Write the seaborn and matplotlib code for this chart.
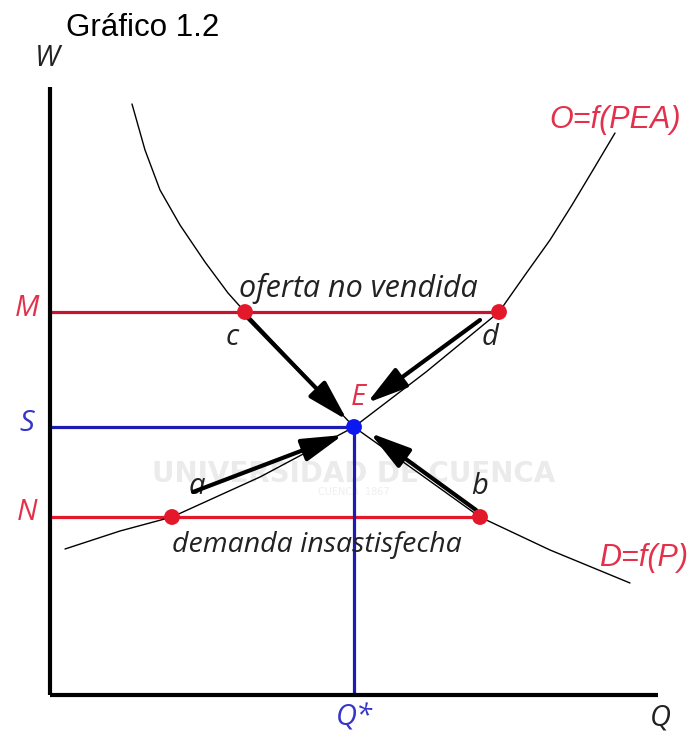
import matplotlib
matplotlib.use("Agg")
import matplotlib.pyplot as plt
import seaborn as sns
import pandas as pd

# Demand curve D=f(P): quantity / wage pairs
demand_q = [82, 95, 110, 130, 155, 178, 195, 250, 304, 370, 430, 500, 580]
demand_w = [591, 545, 505, 470, 433, 402, 383, 325, 268, 221, 178, 145, 112]

# Supply curve O=f(PEA)
supply_q = [15, 70, 122, 210, 304, 376, 449, 475, 500, 522, 543, 565]
supply_w = [146, 164, 178, 218, 268, 323, 383, 420, 455, 490, 525, 562]

# Wage levels and equilibrium quantity
level_names = ["M", "S", "N"]
level_w = [383, 268, 178]
q_star = 304

# Labelled points on the curves
point_names = ["c", "d", "a", "b"]
point_q = [195, 449, 122, 430]
point_w = [383, 383, 178, 178]

# Adjustment arrows towards E (tail -> head)
arrow_from = [(198, 377), (430, 375), (143, 203), (426, 185)]
arrow_to = [(297, 275), (317, 292), (293, 260), (320, 262)]

axis_len = 608

sns.set_theme(style="white")
plt.rcParams["font.family"] = ["Open Sans", "DejaVu Sans"]

RED = "#e3192b"
DARK_RED = "#c4142e"
BLUE = "#1c1cb0"
LBL_RED = "#e3314b"
LBL_BLUE = "#3535c8"
INK = "#222222"

fig = plt.figure(figsize=(6.91, 7.37), dpi=100)
ax = fig.add_axes([0, 0, 1, 1])
ax.set_xlim(-50, 641)
ax.set_ylim(-42, 695)
ax.axis("off")

# faint watermark
ax.text(304, 221, "UNIVERSIDAD DE CUENCA", color="#ebebeb", fontsize=20,
        fontweight="bold", ha="center", va="center", family="DejaVu Sans", zorder=0)
ax.text(304, 203, "CUENCA  1867", color="#efefef", fontsize=7,
        ha="center", va="center", family="DejaVu Sans", zorder=0)

# axes
ax.plot([0, 0], [0, axis_len], color="black", lw=3, solid_capstyle="butt", zorder=3)
ax.plot([0, axis_len], [0, 0], color="black", lw=3, solid_capstyle="butt", zorder=3)

# level lines
ax.plot([0, point_q[1]], [level_w[0], level_w[0]], color=DARK_RED, lw=2.3, zorder=2)
ax.plot([0, point_q[3]], [level_w[2], level_w[2]], color=RED, lw=2.3, zorder=2)
ax.plot([0, q_star], [level_w[1], level_w[1]], color=BLUE, lw=2.3, zorder=2)
ax.plot([q_star, q_star], [0, level_w[1]], color=BLUE, lw=2.3, zorder=2)

# curves
curves = pd.concat([
    pd.DataFrame({"q": demand_q, "w": demand_w, "curve": "D"}),
    pd.DataFrame({"q": supply_q, "w": supply_w, "curve": "O"}),
])
sns.lineplot(data=curves, x="q", y="w", units="curve", estimator=None, sort=False,
             color="black", lw=1.0, ax=ax, zorder=4)

# arrows
for (x0, y0), (x1, y1) in zip(arrow_from, arrow_to):
    ax.annotate("", xy=(x1, y1), xytext=(x0, y0),
                arrowprops=dict(arrowstyle="-|>,head_length=1.25,head_width=0.35",
                                lw=3.0, color="black", mutation_scale=20,
                                shrinkA=0, shrinkB=0), zorder=5)

# points
pts = pd.DataFrame({"q": point_q, "w": point_w})
sns.scatterplot(data=pts, x="q", y="w", color=RED, s=130, edgecolor="none", ax=ax, zorder=6)
sns.scatterplot(x=[q_star], y=[level_w[1]], color="#0b18f0", s=130, edgecolor="none",
                ax=ax, zorder=6)
ax.set_xlabel("")
ax.set_ylabel("")

it = dict(style="italic", fontsize=21)
# level labels
for name, w, c in zip(level_names, level_w, [LBL_RED, LBL_BLUE, LBL_RED]):
    ax.text(-23, w + 4, name, color=c, ha="center", va="center", **it)
ax.text(q_star, -23, "Q*", color=LBL_BLUE, ha="center", va="center", **it)
ax.text(610, -23, "Q", color=INK, ha="center", va="center", **it)
ax.text(-3, 637, "W", color=INK, ha="center", va="center", **it)

# point labels
offsets = {"c": (-13, -25), "d": (-9, -25), "a": (25, 30), "b": (0, 30)}
for name, q, w in zip(point_names, point_q, point_w):
    dx, dy = offsets[name]
    ax.text(q + dx, w + dy, name, color=INK, ha="center", va="center", **it)
ax.text(308, 298, "E", color=LBL_RED, ha="center", va="center", **it)

# curve labels
cl = dict(style="italic", fontsize=22, family="Liberation Sans", color=LBL_RED,
          ha="center", va="center")
ax.text(565, 575, "O=f(PEA)", **cl)
ax.text(594, 137, "D=f(P)", **cl)

# region labels
ax.text(308, 407, "oferta no vendida", color=INK, ha="center", va="center",
        style="italic", fontsize=22)
ax.text(267, 150, "demanda insastisfecha", color=INK, ha="center", va="center",
        style="italic", fontsize=20.5)

# title
fig.text(143 / 691, 1 - 28 / 737, "Gráfico 1.2", fontsize=22.5, family="Liberation Sans",
         ha="center", va="center", color="black")

fig.savefig("out.png", dpi=100)
